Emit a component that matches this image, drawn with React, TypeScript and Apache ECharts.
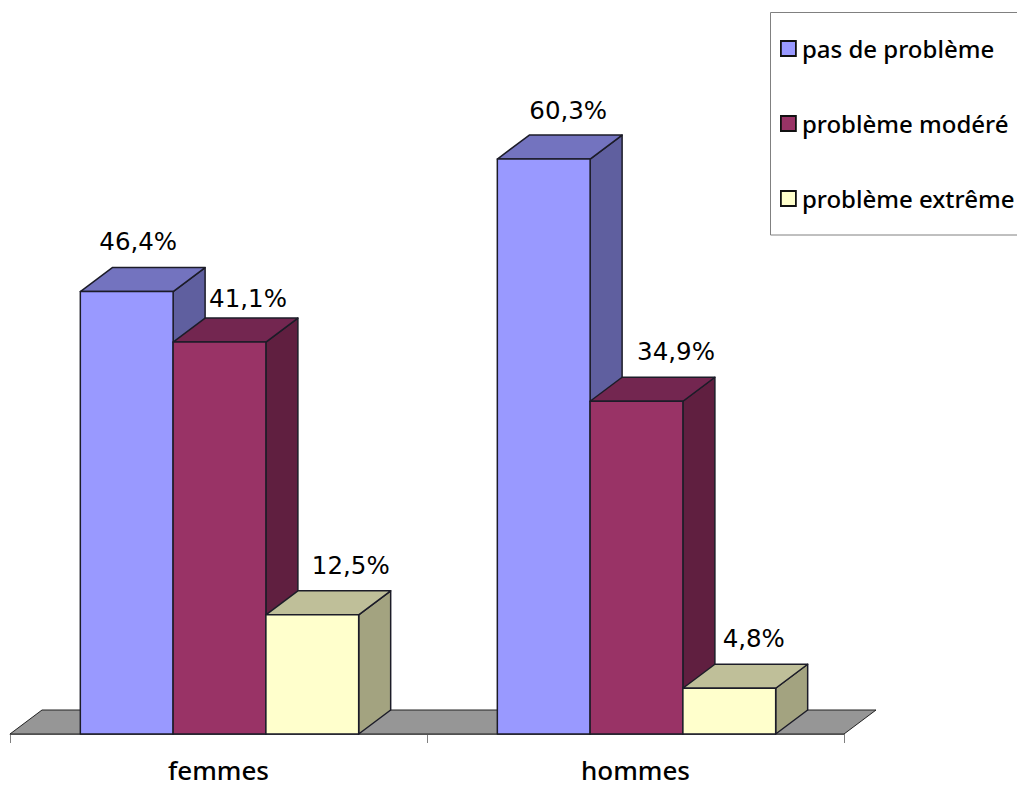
import React, { useEffect, useRef } from "react";
import * as echarts from "echarts";

const categories = ["femmes", "hommes"];
const seriesNames = ["pas de problème", "problème modéré", "problème extrême"];
const pasDeProbleme = [46.4, 60.3];
const problemeModere = [41.1, 34.9];
const problemeExtreme = [12.5, 4.8];
const seriesValues = [pasDeProbleme, problemeModere, problemeExtreme];
const frontColors = ["#9999FF", "#993366", "#FFFFCC"];
const topColors = ["#7373BF", "#732650", "#BFBF99"];
const sideColors = ["#5F5F9F", "#601F40", "#A3A380"];
const labelShift = [
  [[11.5, -50], [24.5, -48.5]],
  [[28.5, -44], [39.5, -50]],
  [[38.5, -49], [24.5, -50]],
];

const DX = 32;
const DY = 24;
const BAR_FRACTION = 0.2225;
const BAR_OFFSET = 1;
const EDGE = "#1c1c28";

function fmt(v: number) {
  return v.toFixed(1).replace(".", ",") + "%";
}

export default function App() {
  const ref = useRef<HTMLDivElement>(null);
  useEffect(() => {
    document.body.style.margin = "0";
    const chart = echarts.init(ref.current!, null, { renderer: "svg" });
    const barSeries = seriesNames.map((name, si) => ({
      type: "custom",
      name,
      coordinateSystem: "cartesian2d",
      clip: false,
      z: 3,
      itemStyle: { color: frontColors[si] },
      data: categories.map((c, i) => [i, seriesValues[si][i]]),
      encode: { x: 0, y: 1 },
      renderItem: (_p: any, api: any) => {
        const cat = api.value(0);
        const val = api.value(1);
        const base = api.coord([cat, 0]);
        const top = api.coord([cat, val]);
        const w = api.size([1, 0])[0] * BAR_FRACTION;
        const x0 = base[0] + BAR_OFFSET + (si - 1.5) * w;
        const x1 = x0 + w;
        const y0 = top[1];
        const y1 = base[1];
        const stroke = { stroke: EDGE, lineWidth: 1.5, lineJoin: "round" };
        const shift = labelShift[si][cat];
        return {
          type: "group",
          children: [
            {
              type: "polygon",
              shape: { points: [[x1, y0], [x1 + DX, y0 - DY], [x1 + DX, y1 - DY], [x1, y1]] },
              style: { fill: sideColors[si], ...stroke },
            },
            {
              type: "polygon",
              shape: { points: [[x0, y0], [x0 + DX, y0 - DY], [x1 + DX, y0 - DY], [x1, y0]] },
              style: { fill: topColors[si], ...stroke },
            },
            {
              type: "rect",
              shape: { x: x0, y: y0, width: w, height: y1 - y0 },
              style: { fill: frontColors[si], ...stroke },
            },
            {
              type: "text",
              x: (x0 + x1) / 2 + shift[0],
              y: y0 + shift[1],
              style: {
                text: fmt(val),
                fill: "#000",
                font: "24.5px 'DejaVu Sans'",
                textAlign: "center",
                textVerticalAlign: "middle",
              },
            },
          ],
        };
      },
    }));
    chart.setOption({
      animation: false,
      backgroundColor: "#fff",
      grid: { left: 10, right: 173, bottom: 53, top: 66.55 },
      xAxis: {
        type: "category",
        data: categories,
        axisLine: { lineStyle: { color: "#808080", width: 1 } },
        axisTick: { show: true, alignWithLabel: false, length: 9, lineStyle: { color: "#808080" } },
        axisLabel: { fontFamily: "'Noto Sans'", fontSize: 26, fontWeight: 500, color: "#000", margin: 23 },
        boundaryGap: true,
      },
      yAxis: { type: "value", min: 0, max: 70, show: false, splitLine: { show: false } },
      legend: {
        orient: "vertical",
        left: 780,
        top: 36.5,
        data: seriesNames,
        icon: "rect",
        itemWidth: 15,
        itemHeight: 15,
        itemGap: 51,
        padding: 0,
        selectedMode: false,
        itemStyle: { borderColor: "#111", borderWidth: 1.8 },
        textStyle: { fontFamily: "'Noto Sans'", fontSize: 24, fontWeight: 500, color: "#000", padding: [0, 0, 0, 1] },
      },
      graphic: [
        {
          type: "rect",
          z: -1,
          shape: { x: 770.5, y: 12.5, width: 250, height: 222.5 },
          style: { fill: "#fff", stroke: "#808080", lineWidth: 1 },
        },
      ],
      series: [
        {
          type: "custom",
          name: "floor",
          coordinateSystem: "cartesian2d",
          clip: false,
          z: 2,
          silent: true,
          data: [[0, 0]],
          renderItem: (p: any, api: any) => {
            const cs = p.coordSys;
            const y = api.coord([0, 0])[1];
            return {
              type: "polygon",
              shape: {
                points: [
                  [cs.x, y],
                  [cs.x + DX, y - DY],
                  [cs.x + cs.width + DX, y - DY],
                  [cs.x + cs.width, y],
                ],
              },
              style: { fill: "#969696", stroke: "#222", lineWidth: 1 },
            };
          },
        },
        ...barSeries,
      ],
    } as any);
    return () => chart.dispose();
  }, []);
  return <div ref={ref} style={{ width: 1017, height: 787 }} />;
}
